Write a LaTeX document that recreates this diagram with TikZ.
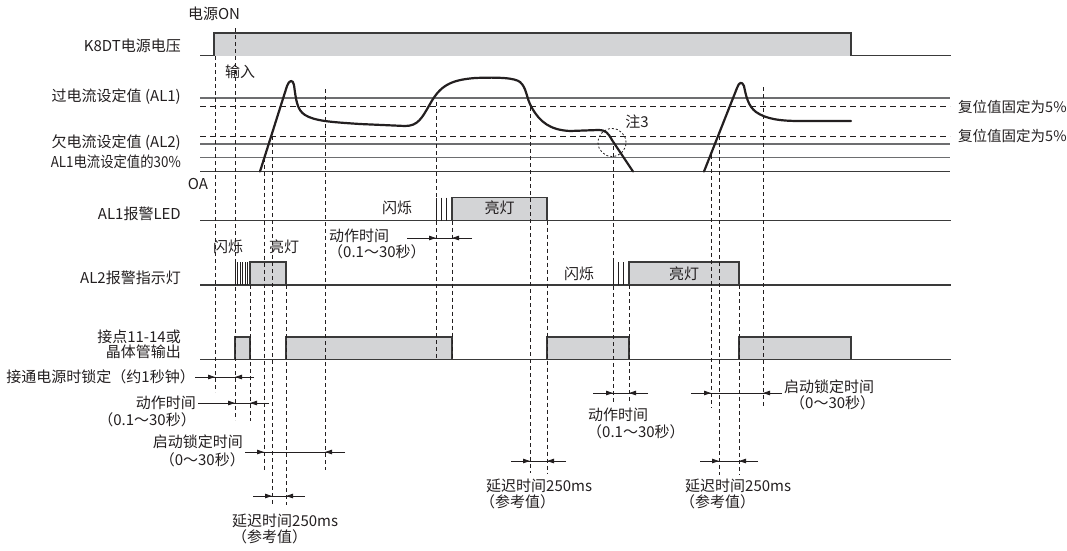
\documentclass[tikz,border=0pt]{standalone}
\usepackage{fontspec}
\usepackage{graphicx}
\setmainfont{Noto Sans CJK SC}
\usetikzlibrary{arrows.meta}
\definecolor{inkdark}{HTML}{231F20}
\definecolor{levelgray}{HTML}{6D6E70}
\definecolor{boxfill}{HTML}{D3D4D6}
\definecolor{boxline}{HTML}{3A3A3A}

\tikzset{
  levelline/.style={levelgray, line width=1.2pt},
  resetline/.style={inkdark, line width=1pt, dash pattern=on 6pt off 4pt},
  sigbase/.style={boxline, line width=1.1pt},
  markline/.style={inkdark, line width=0.8pt, dash pattern=on 4pt off 3pt},
  pulsebox/.style={fill=boxfill, draw=boxline, line width=1.4pt},
  flick/.style={inkdark, line width=0.9pt},
  dimline/.style={inkdark, line width=0.8pt},
  dimtip/.style={-{Triangle[length=7pt,width=4.5pt]}, inkdark, line width=0.8pt},
  lbl/.style={inkdark, font=\fontsize{15}{17}\selectfont, inner sep=0pt},
  wave/.style={inkdark, line width=2.2pt, line join=round, line cap=round}
}

% dimension arrow: y, left end, first mark, second mark, right end
\newcommand{\timespan}[5]{%
  \draw[dimline] (#2,#1) -- (#5,#1);
  \draw[dimtip] (#2,#1) -- (#3,#1);
  \draw[dimtip] (#5,#1) -- (#4,#1);
}

\begin{document}
\begin{tikzpicture}[x=1pt, y=-1pt]
\useasboundingbox (0,0) rectangle (1067,550);

% Supply voltage
\draw[sigbase] (200,55.5) -- (951,55.5);
\draw[pulsebox] (214,55.5) -- (214,33) -- (851,33) -- (851,55.5);
\node[lbl] (lblon) at (214,14) {电源ON};
\node[lbl, anchor=east] (lblpower) at (181,46) {K8DT电源电压};
\node[lbl] (lblin) at (240,72) {输入};

% Current levels
\draw[levelline] (200,98) -- (950,98);
\draw[resetline] (200,106.5) -- (950,106.5);
\draw[resetline] (200,136) -- (950,136);
\draw[levelline] (200,144) -- (950,144);
\draw[levelline] (200,157.5) -- (950,157.5);
\draw[sigbase] (200,171.5) -- (950,171.5);
\node[lbl, anchor=east] (lblal1) at (181,97) {过电流设定值 (AL1)};
\node[lbl, anchor=east] (lblal2) at (181,143) {欠电流设定值 (AL2)};
\node[lbl, anchor=east] (lbl30) at (181,162) {\scalebox{0.89}[1]{AL1电流设定值的30\%}};
\node[lbl] (lbloa) at (198,184) {OA};
\node[lbl, font=\fontsize{14.5}{17}\selectfont, anchor=west] (lblreset1) at (958,106.5) {复位值固定为5\%};
\node[lbl, font=\fontsize{14.5}{17}\selectfont, anchor=west] (lblreset2) at (958,136) {复位值固定为5\%};

% Load current
\draw[wave] (260,171.5) -- (287,86)
  .. controls (289,80) and (293,79) .. (294,85)
  .. controls (296,100) and (297,110) .. (305,115)
  .. controls (315,121) and (330,122) .. (360,124)
  -- (405,126)
  .. controls (418,126) and (422,118) .. (430,104)
  .. controls (440,86) and (450,80) .. (475,78)
  .. controls (500,77) and (515,78) .. (520,82)
  .. controls (527,88) and (526,98) .. (532,108)
  .. controls (540,122) and (550,130) .. (570,131)
  -- (598,130)
  .. controls (606,130) and (608,133) .. (612,140)
  -- (633,171.5);
\draw[wave] (704,171.5) -- (737,88)
  .. controls (739,82) and (742,81) .. (744,86)
  .. controls (746,96) and (748,106) .. (756,112)
  .. controls (766,119) and (780,121) .. (800,121)
  -- (851,121);
% Note 3
\draw[inkdark, line width=0.8pt, dash pattern=on 2pt off 2pt] (612,142.5) circle (14pt);
\node[lbl] (lblnote) at (637,122) {注3};

% AL1 alarm LED
\draw[sigbase] (200,220.5) -- (951,220.5);
\draw[flick] (436,197.5) -- (436,220.5);
\draw[flick] (441,197.5) -- (441,220.5);
\draw[flick] (446,197.5) -- (446,220.5);
\draw[pulsebox] (452,220.5) rectangle (547,197.5);
\node[lbl, anchor=east] (lblled1) at (181,214) {AL1报警LED};
\node[lbl] (blink1) at (397,208) {闪烁};
\node[lbl] (lit1) at (499.5,208) {亮灯};

% AL2 alarm indicator
\draw[sigbase] (200,285) -- (951,285);
\draw[flick] (235,262) -- (235,285);
\draw[flick] (237.5,262) -- (237.5,285);
\draw[flick] (240,262) -- (240,285);
\draw[flick] (242.5,262) -- (242.5,285);
\draw[flick] (245,262) -- (245,285);
\draw[flick] (247.5,262) -- (247.5,285);
\draw[pulsebox] (250,285) rectangle (286,262);
\draw[flick] (613,262) -- (613,285);
\draw[flick] (618,262) -- (618,285);
\draw[flick] (623,262) -- (623,285);
\draw[pulsebox] (629,285) rectangle (739,262);
\node[lbl, anchor=east] (lblled2) at (181,278) {AL2报警指示灯};
\node[lbl] (blink2) at (228,247) {闪烁};
\node[lbl] (lit2) at (284,247) {亮灯};
\node[lbl] (blink3) at (579,274) {闪烁};
\node[lbl] (lit3) at (684,274) {亮灯};

% Contact / transistor output
\draw[sigbase] (200,359.5) -- (951,359.5);
\draw[pulsebox] (235,359.5) rectangle (250,337);
\draw[pulsebox] (286,359.5) rectangle (452,337);
\draw[pulsebox] (547,359.5) rectangle (629,337);
\draw[pulsebox] (739,359.5) rectangle (851,337);
\node[lbl, anchor=east] (lblout1) at (181,337) {接点11-14或};
\node[lbl, anchor=east] (lblout2) at (181,352) {晶体管输出};

% Timing marks
\draw[markline] (215,56) -- (215,392);
\draw[markline] (235,28) -- (235,420);
\draw[markline] (250,285) -- (250,421);
\draw[markline] (264,157.5) -- (264,470);
\draw[markline] (272,136) -- (272,505);
\draw[markline] (286,285) -- (286,505);
\draw[markline] (325,89) -- (325,470);
\draw[markline] (436,102) -- (436,359);
\draw[markline] (452,220.5) -- (452,359);
\draw[markline] (530,107) -- (530,473);
\draw[markline] (547,220.5) -- (547,473);
\draw[markline] (613,146) -- (613,403);
\draw[markline] (629,285) -- (629,403);
\draw[markline] (711,155) -- (711,408);
\draw[markline] (719,136) -- (719,475);
\draw[markline] (739,285) -- (739,475);
\draw[markline] (763,87) -- (763,408);

% Time spans
\timespan{377}{195}{215}{235}{254}
\timespan{403}{198}{235}{250}{269}
\timespan{452}{245}{264}{325}{345}
\timespan{496}{253}{272}{286}{305}
\timespan{238}{407}{436}{452}{472}
\timespan{461}{511}{530}{547}{566}
\timespan{393}{593}{613}{629}{648}
\timespan{393}{691}{711}{763}{782}
\timespan{461}{700}{719}{739}{758}

% Span labels
\node[lbl, anchor=east] (lock) at (195,377) {接通电源时锁定（约1秒钟）};
\node[lbl, anchor=east] (opa) at (196,403) {动作时间};
\node[lbl, anchor=east] (opb) at (196,420) {（0.1～30秒）};
\node[lbl, anchor=east] (starta) at (243,442) {启动锁定时间};
\node[lbl, anchor=east] (startb) at (245,460) {（0～30秒）};
\node[lbl, anchor=west] (delaya) at (232,521) {延迟时间250ms};
\node[lbl, anchor=west] (delayb) at (232,537) {（参考值）};
\node[lbl, anchor=west] (opc) at (329,236) {动作时间};
\node[lbl, anchor=west] (opd) at (328,252) {（0.1～30秒）};
\node[lbl, anchor=west] (delayc) at (486,486) {延迟时间250ms};
\node[lbl, anchor=west] (delayd) at (480,502) {（参考值）};
\node[lbl, anchor=west] (ope) at (588,415) {动作时间};
\node[lbl, anchor=west] (opf) at (587,432) {（0.1～30秒）};
\node[lbl, anchor=west] (startc) at (784,387) {启动锁定时间};
\node[lbl, anchor=west] (startd) at (790,403) {（0～30秒）};
\node[lbl, anchor=west] (delaye) at (685,486) {延迟时间250ms};
\node[lbl, anchor=west] (delayf) at (680,502) {（参考值）};
\end{tikzpicture}
\end{document}
